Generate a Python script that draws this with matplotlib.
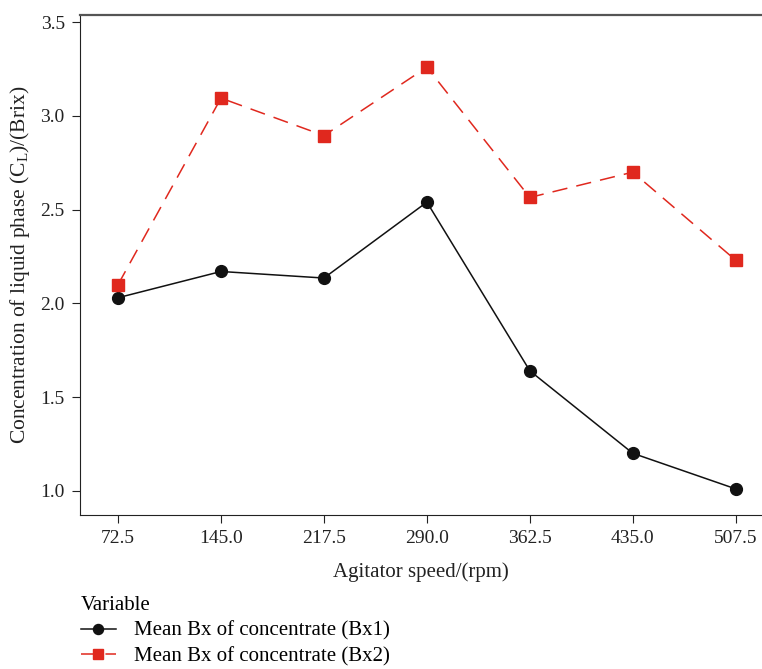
import numpy as np
import matplotlib
matplotlib.use("Agg")
from matplotlib import pyplot as plt

plt.rcParams["font.family"] = ["Liberation Serif", "DejaVu Serif"]
plt.rcParams["mathtext.fontset"] = "custom"
plt.rcParams["mathtext.rm"] = "Liberation Serif"
plt.rcParams["mathtext.it"] = "Liberation Serif:italic"

# agitator speed (rpm)
speed = [72.5, 145.0, 217.5, 290.0, 362.5, 435.0, 507.5]
bx1 = [2.03, 2.17, 2.135, 2.54, 1.64, 1.20, 1.01]
bx2 = [2.10, 3.095, 2.895, 3.26, 2.565, 2.70, 2.23]
tick_labels = ["72.5", "145.0", "217.5", "290.0", "362.5", "435.0", "507.5"]

fig = plt.figure(figsize=(7.62, 6.69), dpi=100)
ax = fig.add_axes([0.105, 0.230, 0.895, 0.748])

ax.plot(speed, bx1, color="#111111", linewidth=1.1, marker="o",
        markersize=8.5, label="Mean Bx of concentrate (Bx1)")
ax.plot(speed, bx2, color="#e0281e", linewidth=1.1, marker="s",
        markersize=8.5, dashes=(10, 6), label="Mean Bx of concentrate (Bx2)")

ax.set_xlim(45.7, 526)
ax.set_ylim(0.87, 3.54)
ax.set_xticks(speed)
ax.set_xticklabels(tick_labels)
ax.set_yticks([1.0, 1.5, 2.0, 2.5, 3.0, 3.5])
ax.tick_params(labelsize=14, length=6, pad=5, color="#222222", labelcolor="#222222")

ax.spines["right"].set_visible(False)
ax.spines["top"].set_color("#555555")
ax.spines["top"].set_linewidth(1.6)
for s in ["left", "bottom"]:
    ax.spines[s].set_color("#222222")

ax.set_xlabel("Agitator speed/(rpm)", fontsize=15, color="#222222", labelpad=11)
ax.set_ylabel(r"Concentration of liquid phase (C$_\mathregular{L}$)/(Brix)",
              fontsize=15.5, color="#222222", labelpad=6)

leg = fig.legend(loc="upper left", bbox_to_anchor=(0.106, 0.109),
                 frameon=False, title="Variable", fontsize=15,
                 title_fontsize=15, handlelength=1.7, handletextpad=0.85,
                 labelspacing=0.3, borderaxespad=0, borderpad=0,
                 markerscale=0.85)
leg._legend_box.align = "left"

fig.savefig("out.png", dpi=100)
